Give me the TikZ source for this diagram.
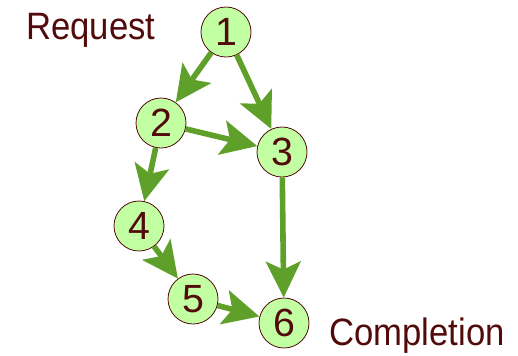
\documentclass[tikz,border=0pt]{standalone}
\usepackage{fontspec}
\usepackage{graphicx}
\setmainfont{Liberation Sans}
\usetikzlibrary{arrows.meta}
\definecolor{ink}{HTML}{520A0A}
\definecolor{nodefill}{HTML}{C2FFA2}
\definecolor{arrowgreen}{HTML}{5FA02A}
\tikzset{
  stepnode/.style={circle,draw=ink,line width=0.6pt,fill=nodefill,minimum size=37.5pt,inner sep=0pt,
    text=ink,font=\fontsize{29.5pt}{30pt}\selectfont},
  flow/.style={draw=arrowgreen,line width=4.2pt,
    -{Stealth[length=27pt,width=26pt,inset=6pt,fill=arrowgreen]}},
  caption/.style={text=ink,inner sep=0pt,anchor=base west,font=\fontsize{26pt}{28pt}\selectfont}
}
\begin{document}
\begin{tikzpicture}[x=0.75pt,y=-0.75pt]
\useasboundingbox (0,0) rectangle (518,355);
\node[stepnode] (n1) at (226,32) {1};
\node[stepnode] (n2) at (161,123) {2};
\node[stepnode] (n3) at (282,152) {3};
\node[stepnode] (n4) at (139,226) {4};
\node[stepnode] (n5) at (193,299) {5};
\node[stepnode] (n6) at (284,323) {6};
\node[caption] (req) at (26,39) {\scalebox{1}[1.1]{Request}};
\node[caption] (comp) at (329,345) {\scalebox{1}[1.1]{Completion}};
\draw[flow] (n1) -- (n2);
\draw[flow] (n1) -- (n3);
\draw[flow] (n2) -- (n3);
\draw[flow] (n2) -- (n4);
\draw[flow] (n3) -- (n6);
\draw[flow] (n4) -- (n5);
\draw[flow] (n5) -- (n6);
\end{tikzpicture}
\end{document}
